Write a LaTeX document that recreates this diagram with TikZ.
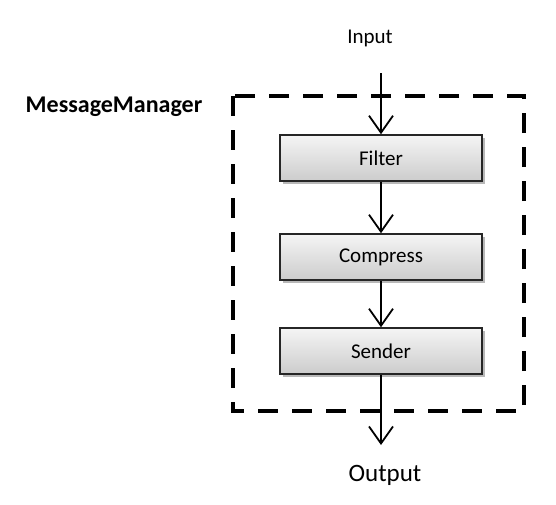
\documentclass[tikz,border=0pt]{standalone}
\usepackage{fontspec}
\setmainfont{Carlito}
\usetikzlibrary{arrows.meta,shadows}
\tikzset{
  stage/.style={draw=black!85, line width=1.5pt, minimum width=202pt, minimum height=46pt,
    top color=gray!8, bottom color=gray!40, inner sep=0pt,
    drop shadow={shadow xshift=2.5pt, shadow yshift=-2.5pt, fill=gray!70, opacity=0.8},
    font=\fontsize{21}{24}\selectfont},
  flow/.style={line width=2pt, -{Straight Barb[length=17pt,width=24pt,line width=1.8pt]}},
  frame/.style={draw, line width=4pt, dash pattern=on 20pt off 14pt},
  lbl/.style={inner sep=0pt}
}
\begin{document}
\begin{tikzpicture}[x=1pt,y=-1pt]
\useasboundingbox (0,0) rectangle (556,504);
\draw[frame] (233,96) rectangle (524,411);
\node[lbl, font=\fontsize{24}{28}\selectfont\bfseries] (mm) at (114,107) {MessageManager};
\node[lbl, font=\fontsize{21}{24}\selectfont] (in) at (370,38) {Input};
\coordinate (instart) at (381,73);
\node[stage] (filter) at (381,158) {Filter};
\node[stage] (compress) at (381,257) {Compress};
\node[stage] (sender) at (381,351) {Sender};
\coordinate (outend) at (381,445);
\node[lbl, font=\fontsize{25}{28}\selectfont] (out) at (385,475) {Output};
\draw[flow] (instart) -- (filter.north);
\draw[flow] (filter.south) -- (compress.north);
\draw[flow] (compress.south) -- (sender.north);
\draw[flow] (sender.south) -- (outend);
\end{tikzpicture}
\end{document}
